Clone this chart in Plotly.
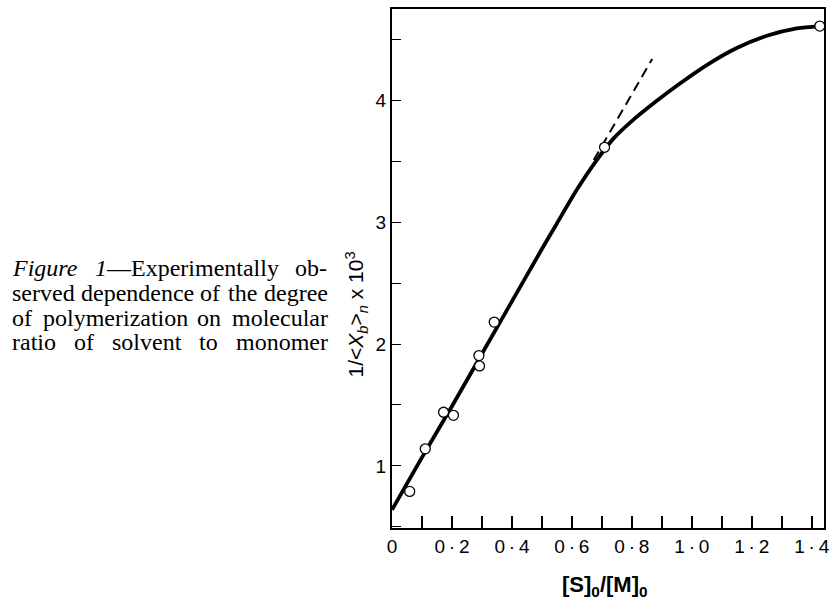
import plotly.graph_objects as go

# Measured points: solvent/monomer ratio vs 1/<X_b>_n (x10^3)
ratio_obs = [0.059, 0.111, 0.172, 0.205, 0.290, 0.292, 0.341, 0.709, 1.427]
inv_dp_obs = [0.79, 1.14, 1.44, 1.415, 1.905, 1.82, 2.18, 3.615, 4.61]

# Smooth curve drawn through the data
curve_x = [0.0, 0.1, 0.2, 0.3, 0.4, 0.5, 0.55, 0.62, 0.68, 0.74, 0.80, 0.88,
           0.95, 1.05, 1.15, 1.25, 1.35, 1.427]
curve_y = [0.64, 1.07, 1.49, 1.92, 2.35, 2.78, 2.99, 3.28, 3.50, 3.69, 3.83, 3.99,
           4.12, 4.29, 4.43, 4.53, 4.59, 4.61]

# Extension of the initial straight line
tangent_x = [0.673, 0.868]
tangent_y = [3.51, 4.34]

x_ticks = [0.0, 0.2, 0.4, 0.6, 0.8, 1.0, 1.2, 1.4]
x_labels = ["0", "0\u2009·\u20092", "0\u2009·\u20094", "0\u2009·\u20096",
            "0\u2009·\u20098", "1\u2009·\u20090", "1\u2009·\u20092", "1\u2009·\u20094"]
y_ticks = [1, 2, 3, 4]
y_labels = ["1", "2", "3", "4"]

# Caption words: list of (text, italic) runs per word
caption_lines = [
    [[("Figure", True)], [("1", True), ("—Experimentally", False)], [("ob-", False)]],
    [[("served", False)], [("dependence", False)], [("of", False)], [("the", False)],
     [("degree", False)]],
    [[("of", False)], [("polymerization", False)], [("on", False)], [("molecular", False)]],
    [[("ratio", False)], [("of", False)], [("solvent", False)], [("to", False)],
     [("monomer", False)]],
]
caption_rows_y = [268, 293, 318, 342]
caption_left, caption_right = 7, 326
caption_size = 24

W, H = 831, 602
L, R, T, B = 392, 1, 9, 74
x_range = [0.0, 1.441]
y_range = [0.49, 4.75]

# Times-compatible advance widths (1/1000 em) for justifying the caption
ROMAN = dict(a=444, b=500, c=444, d=500, e=444, f=333, g=500, h=500, i=278, j=278,
             k=500, l=278, m=778, n=500, o=500, p=500, q=500, r=333, s=389, t=278,
             u=500, v=500, w=722, x=500, y=500, z=444, E=611)
ROMAN.update({"-": 333, "—": 1000, "1": 500})
ITALIC = dict(ROMAN)
ITALIC.update(F=611, r=389, g=500, u=500, e=444, i=278)


def word_width(runs):
    total = 0
    for text, italic in runs:
        table = ITALIC if italic else ROMAN
        total += sum(table.get(ch, 500) for ch in text)
    return total * caption_size / 1000.0


def word_markup(runs):
    return "".join(f"<i>{t}</i>" if it else t for t, it in runs)


fig = go.Figure()

fig.add_trace(go.Scatter(
    x=curve_x, y=curve_y, mode="lines",
    line=dict(color="black", width=3.8, shape="spline", smoothing=0.8),
    hoverinfo="skip", showlegend=False,
))
fig.add_trace(go.Scatter(
    x=tangent_x, y=tangent_y, mode="lines",
    line=dict(color="black", width=2, dash="10px,6px"),
    hoverinfo="skip", showlegend=False,
))
fig.add_trace(go.Scatter(
    x=ratio_obs, y=inv_dp_obs, mode="markers",
    marker=dict(symbol="circle", size=10, color="white",
                line=dict(color="black", width=1.3)),
    cliponaxis=False, showlegend=False,
))

tick_font = dict(family="Liberation Sans, Arial, sans-serif", size=19, color="black")

fig.update_xaxes(
    range=x_range, tickmode="array", tickvals=x_ticks, ticktext=x_labels,
    ticks="inside", ticklen=12, tickwidth=1.5, tickcolor="black",
    minor=dict(tick0=0, dtick=0.1, ticks="inside", ticklen=12, tickwidth=1.5,
               tickcolor="black", showgrid=False),
    ticklabeloverflow="allow",
    showline=True, linecolor="black", linewidth=2.2, mirror=True,
    showgrid=False, zeroline=False, tickfont=tick_font,
)
fig.update_yaxes(
    range=y_range, tickmode="array", tickvals=y_ticks, ticktext=y_labels,
    ticks="inside", ticklen=9, tickwidth=1.2, tickcolor="black",
    minor=dict(tick0=0, dtick=0.5, ticks="inside", ticklen=9, tickwidth=1.2,
               tickcolor="black", showgrid=False),
    showline=True, linecolor="black", linewidth=2.2, mirror=True,
    showgrid=False, zeroline=False, tickfont=tick_font,
)


def px_to_paper_x(px):
    return (px - L) / (W - L - R)


def px_to_paper_y(py):
    return (H - B - py) / (H - B - T)


caption_font = dict(family="Liberation Serif, Times New Roman, serif",
                    size=caption_size, color="black")

annotations = []
for words, row_y in zip(caption_lines, caption_rows_y):
    widths = [word_width(w) for w in words]
    gap = (caption_right - caption_left - sum(widths)) / (len(words) - 1)
    left = caption_left
    for runs, wdt in zip(words, widths):
        annotations.append(dict(
            text=word_markup(runs),
            x=px_to_paper_x(left), y=px_to_paper_y(row_y),
            xref="paper", yref="paper", xanchor="left", yanchor="middle",
            showarrow=False, font=caption_font, borderpad=0, borderwidth=0,
        ))
        left += wdt + gap

annotations.append(dict(
    text="1/&lt;<i>X</i><sub><i>b</i></sub>&gt;<sub><i>n</i></sub> x 10<sup>3</sup>",
    x=px_to_paper_x(355), y=px_to_paper_y(315), xref="paper", yref="paper",
    xanchor="center", yanchor="middle", textangle=-90, showarrow=False,
    font=dict(family="Liberation Sans, Arial, sans-serif", size=21, color="black"),
))
annotations.append(dict(
    text="<b>[S]<sub>0</sub>/[M]<sub>0</sub></b>",
    x=px_to_paper_x(608), y=px_to_paper_y(586), xref="paper", yref="paper",
    xanchor="center", yanchor="middle", showarrow=False,
    font=dict(family="Liberation Sans, Arial, sans-serif", size=22, color="black"),
))

fig.update_layout(
    width=W, height=H,
    margin=dict(l=L, r=R, t=T, b=B, pad=0),
    paper_bgcolor="white", plot_bgcolor="white",
    annotations=annotations, showlegend=False,
)

fig.write_html("out.html")
